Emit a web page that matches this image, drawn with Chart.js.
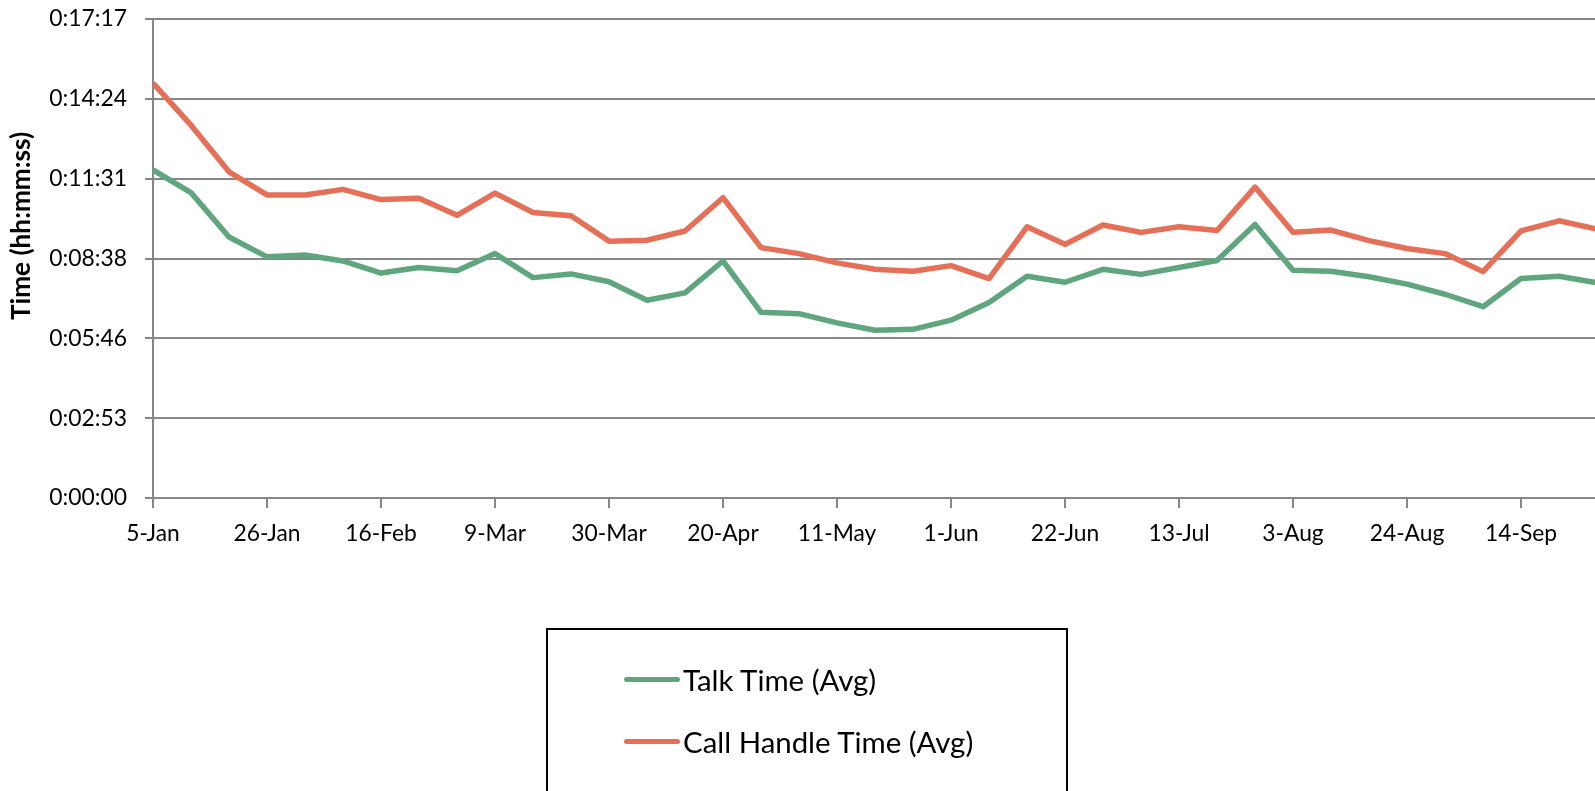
<!DOCTYPE html>
<html lang="en">
<head>
    <meta charset="UTF-8">
    <title>Talk Time vs Call Handle Time</title>
    <style>
        body { margin: 0; padding: 0; overflow: hidden; background: #fff; font-family: Lato, sans-serif; }
        #wrap { position: relative; width: 1640px; height: 791px; }
        #legend { position: absolute; left: 546px; top: 628px; width: 518px; height: 200px; border: 2px solid #000; }
        .legend-item { position: absolute; left: 76px; height: 36px; display: flex; align-items: center; color: #000; white-space: nowrap; }
        .legend-item span.swatch { display: inline-block; width: 56px; height: 5px; border-radius: 3px; margin-right: 3px; }
    </style>
</head>
<body>
    <div id="wrap">
        <canvas id="timeChart" width="1640" height="791"></canvas>
        <div id="legend"></div>
    </div>

    <script src="https://cdn.jsdelivr.net/npm/chart.js"></script>
    <script>
        // weekly dates, one point per week
        const weekLabels = ['5-Jan', '12-Jan', '19-Jan', '26-Jan', '2-Feb', '9-Feb', '16-Feb', '23-Feb', '2-Mar',
            '9-Mar', '16-Mar', '23-Mar', '30-Mar', '6-Apr', '13-Apr', '20-Apr', '27-Apr', '4-May', '11-May',
            '18-May', '25-May', '1-Jun', '8-Jun', '15-Jun', '22-Jun', '29-Jun', '6-Jul', '13-Jul', '20-Jul',
            '27-Jul', '3-Aug', '10-Aug', '17-Aug', '24-Aug', '31-Aug', '7-Sep', '14-Sep', '21-Sep', '28-Sep'];

        // values in seconds
        const talkTime = [710, 661, 565, 522, 526, 513, 487, 499, 492, 529, 477, 485, 468, 428, 444, 513, 402, 399, 379,
            363, 365, 385, 423, 480, 467, 495, 484, 499, 514, 592, 493, 491, 479, 463, 441, 414, 475, 480, 466];
        const callHandleTime = [898, 807, 706, 656, 656, 668, 646, 649, 612, 660, 618, 611, 556, 558, 578, 650, 542, 529, 509,
            495, 491, 503, 475, 587, 549, 591, 575, 587, 579, 673, 575, 580, 557, 540, 529, 490, 578, 600, 582];

        const seriesNames = ['Talk Time (Avg)', 'Call Handle Time (Avg)'];
        const seriesColors = ['#5fa67e', '#e56f57'];

        // y ticks every 0.002 day (172.8 s), as in the spreadsheet
        const yTickValues = [0, 172.8, 345.6, 518.4, 691.2, 864, 1036.8];
        const yTickLabels = ['0:00:00', '0:02:53', '0:05:46', '0:08:38', '0:11:31', '0:14:24', '0:17:17'];

        const gridColor = '#878787';

        // pick a font size so a sample text comes out at a given width
        const measureCtx = document.createElement('canvas').getContext('2d');
        function fitSize(text, width, weight) {
            measureCtx.font = (weight || 'normal') + ' 100px Lato';
            return Math.round(100 * width / measureCtx.measureText(text).width * 10) / 10;
        }
        const yTickSize = fitSize('0:17:17', 78);
        const xTickSize = fitSize('14-Sep', 72);
        const titleSize = fitSize('Time (hh:mm:ss)', 188, 'bold');
        const legendSize = fitSize('Call Handle Time (Avg)', 291);

        const toPoints = arr => arr.map((v, i) => ({ x: i, y: v }));

        // rotated axis title, sits a bit above the middle of the plot
        const axisTitle = {
            id: 'axisTitle',
            afterDraw(chart) {
                const ctx = chart.ctx;
                ctx.save();
                ctx.translate(22, 226);
                ctx.rotate(-Math.PI / 2);
                ctx.font = 'bold ' + titleSize + 'px Lato';
                ctx.fillStyle = '#000';
                ctx.textAlign = 'center';
                ctx.textBaseline = 'middle';
                ctx.fillText('Time (hh:mm:ss)', 0, 0);
                ctx.restore();
            }
        };

        Chart.defaults.font.family = 'Lato';
        Chart.defaults.color = '#000';

        const chart = new Chart(document.getElementById('timeChart'), {
            type: 'line',
            data: {
                datasets: [talkTime, callHandleTime].map((arr, k) => ({
                    label: seriesNames[k],
                    data: toPoints(arr),
                    borderColor: seriesColors[k],
                    backgroundColor: seriesColors[k],
                    borderWidth: 5.5,
                    borderJoinStyle: 'round',
                    pointRadius: 0,
                    tension: 0,
                    fill: false
                }))
            },
            options: {
                responsive: false,
                animation: false,
                layout: { padding: { top: 19, right: 5, bottom: 0, left: 0 } },
                plugins: {
                    legend: { display: false },
                    tooltip: { enabled: false }
                },
                scales: {
                    x: {
                        type: 'linear',
                        min: 0,
                        max: 39,
                        afterFit: s => {
                            s.height = 293;
                            s.paddingLeft = 0;
                            s.paddingRight = 0;
                        },
                        grid: { drawOnChartArea: false, color: gridColor, lineWidth: 2, tickLength: 10 },
                        border: { color: gridColor, width: 2 },
                        ticks: {
                            stepSize: 3,
                            autoSkip: false,
                            maxRotation: 0,
                            padding: 12,
                            font: { size: xTickSize },
                            callback: v => weekLabels[v] || ''
                        }
                    },
                    y: {
                        min: 0,
                        max: 1036.8,
                        afterFit: s => {
                            s.width = 153;
                            s.paddingTop = 0;
                            s.paddingBottom = 0;
                        },
                        afterBuildTicks: s => { s.ticks = yTickValues.map(v => ({ value: v })); },
                        grid: { color: gridColor, lineWidth: 2, tickLength: 8 },
                        border: { color: gridColor, width: 2 },
                        ticks: {
                            padding: 18,
                            font: { size: yTickSize },
                            callback: (v, i) => yTickLabels[i]
                        }
                    }
                }
            },
            plugins: [axisTitle]
        });

        // boxed legend below the plot
        const legendEl = document.getElementById('legend');
        chart.data.datasets.forEach((ds, k) => {
            const item = document.createElement('div');
            item.className = 'legend-item';
            item.style.top = (31 + k * 62) + 'px';
            item.style.fontSize = legendSize + 'px';
            item.innerHTML = '<span class="swatch" style="background:' + ds.borderColor + '"></span>' + ds.label;
            legendEl.appendChild(item);
        });
    </script>
</body>
</html>
